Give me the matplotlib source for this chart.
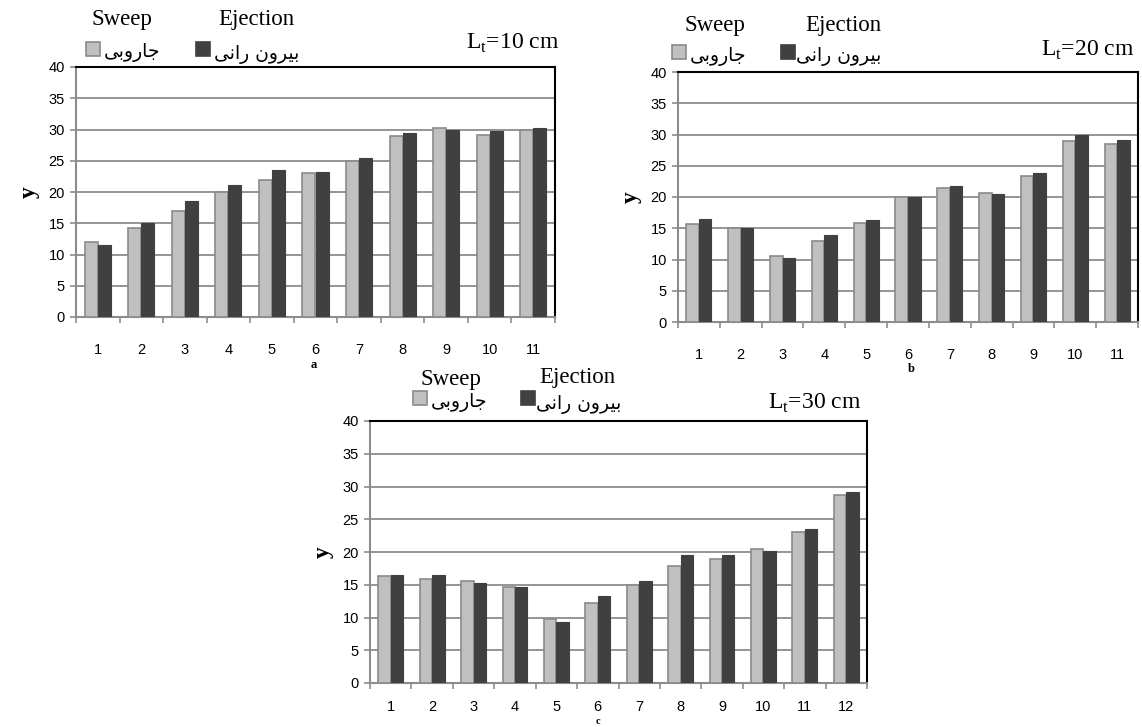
import numpy as np
import matplotlib
matplotlib.use('Agg')
import matplotlib.pyplot as plt
from matplotlib.patches import Rectangle

W, H = 1142, 727

#---------------------------------------------------------------------
# data
#---------------------------------------------------------------------
cats_a = [str(i) for i in range(1, 12)]
sweep_a = [12.0, 14.2, 17.0, 20.0, 22.0, 23.0, 25.0, 28.9, 30.3, 29.2, 29.9]
eject_a = [11.6, 15.0, 18.5, 21.2, 23.5, 23.2, 25.4, 29.5, 30.0, 29.7, 30.2]

cats_b = [str(i) for i in range(1, 12)]
sweep_b = [15.7, 15.0, 10.5, 13.0, 15.9, 20.0, 21.4, 20.7, 23.4, 29.0, 28.5]
eject_b = [16.5, 15.1, 10.2, 13.9, 16.4, 20.0, 21.8, 20.5, 23.9, 30.0, 29.2]

cats_c = [str(i) for i in range(1, 13)]
sweep_c = [16.4, 15.9, 15.5, 14.6, 9.8, 12.2, 15.0, 17.9, 19.0, 20.5, 23.0, 28.7]
eject_c = [16.5, 16.5, 15.3, 14.6, 9.3, 13.3, 15.55, 19.5, 19.5, 20.2, 23.5, 29.1]

yticks = [0, 5, 10, 15, 20, 25, 30, 35, 40]
lab_sweep_en = 'Sweep'
lab_eject_en = 'Ejection'
lab_sweep_fa = 'جاروبی'
lab_eject_fa = 'بیرون رانی'

light = '#c0c0c0'
light_edge = '#8a8a8a'
dark = '#404040'
gridc = '#8c8c8c'


#------- simple persian shaping (mpl 3.10 has no text shaping) -------
FORMS = {
    'ج': ('\uFE9D', '\uFE9E', '\uFE9F', '\uFEA0', True),
    'ا': ('\uFE8D', '\uFE8E', None, None, False),
    'ر': ('\uFEAD', '\uFEAE', None, None, False),
    'و': ('\uFEED', '\uFEEE', None, None, False),
    'ب': ('\uFE8F', '\uFE90', '\uFE91', '\uFE92', True),
    'ی': ('\uFEEF', '\uFEF0', '\uFEF3', '\uFEF4', True),
    'ن': ('\uFEE5', '\uFEE6', '\uFEE7', '\uFEE8', True),
}

def shape(txt):
    out = []
    for i, c in enumerate(txt):
        if c not in FORMS:
            out.append(c)
            continue
        iso, fin, ini, med, dual = FORMS[c]
        prev = txt[i-1] if i > 0 else None
        nxt = txt[i+1] if i+1 < len(txt) else None
        jp = prev in FORMS and FORMS[prev][4]
        jn = dual and nxt in FORMS
        if jp and jn:
            out.append(med)
        elif jp:
            out.append(fin)
        elif jn:
            out.append(ini)
        else:
            out.append(iso)
    return ''.join(reversed(out))


def fx(x):
    return x / W

def fy(y):
    return 1 - y / H


def plot_panel(fig, box, cats, sw, ej, lt, leg, letter, xpad=19):
    # box: left, top, right, bottom in pixels
    l, t, r, b = box
    ax = fig.add_axes([fx(l), fy(b), (r-l)/W, (b-t)/H])
    x = np.arange(len(cats))
    bw = 0.3
    ax.bar(x - bw/2, sw, width=bw, color=light, edgecolor=light_edge, linewidth=1.2, zorder=3)
    ax.bar(x + bw/2, ej, width=bw, color=dark, edgecolor=dark, linewidth=0.8, zorder=3)
    ax.set_xlim(-0.5, len(cats) - 0.5)
    ax.set_ylim(0, 40)
    ax.set_yticks(yticks)
    ax.yaxis.grid(True, color=gridc, linewidth=1.3, zorder=0)
    ax.set_axisbelow(True)
    ax.set_xticks(x)
    ax.set_xticklabels(cats)
    ax.set_xticks(np.arange(len(cats) + 1) - 0.5, minor=True)
    ax.tick_params(axis='x', which='major', length=0, pad=xpad, labelsize=10.5)
    ax.tick_params(axis='x', which='minor', length=4, color=gridc, width=1.2, direction='out')
    ax.tick_params(axis='y', length=4, color=gridc, width=1.2, direction='out', labelsize=10.5, pad=4)
    for s in ['left', 'bottom']:
        ax.spines[s].set_color(gridc)
        ax.spines[s].set_linewidth(1.5)
    for s in ['top', 'right']:
        ax.spines[s].set_color('black')
        ax.spines[s].set_linewidth(1.5)
    ax.set_ylabel('y', fontfamily='Liberation Serif', fontweight='bold', fontsize=17, labelpad=6)

    # legend drawn by hand, like the excel original
    fig.text(fx(l + leg['sw'][0]), fy(t - leg['sw'][1]), lab_sweep_en, ha='center', va='center',
             fontfamily='Liberation Serif', fontsize=16.5)
    fig.text(fx(l + leg['ej'][0]), fy(t - leg['ej'][1]), lab_eject_en, ha='center', va='center',
             fontfamily='Liberation Serif', fontsize=16.5)
    for key, fc, ec in [('sq1', light, light_edge), ('sq2', dark, dark)]:
        cx, cy = l + leg[key][0], t - leg[key][1]
        fig.add_artist(Rectangle((fx(cx - 7), fy(cy + 7)), 14/W, 14/H, transform=fig.transFigure,
                                 facecolor=fc, edgecolor=ec, linewidth=1.2))
    fig.text(fx(l + leg['fa1'][0]), fy(t - leg['fa1'][1]), shape(lab_sweep_fa), ha='center', va='center',
             fontfamily='DejaVu Sans', fontsize=13.5)
    fig.text(fx(l + leg['fa2'][0]), fy(t - leg['fa2'][1]), shape(lab_eject_fa), ha='center', va='center',
             fontfamily='DejaVu Sans', fontsize=13.5)
    fig.text(fx(l + leg['lt'][0]), fy(t - leg['lt'][1]), lt, ha='right', va='center',
             fontfamily='Liberation Serif', fontsize=17)
    fig.text(fx(letter[0]), fy(letter[1]), letter[2], ha='center', va='center',
             fontfamily='Liberation Serif', fontweight='bold', fontsize=letter[3])
    return ax


plt.rcParams['mathtext.fontset'] = 'custom'
plt.rcParams['mathtext.rm'] = 'Liberation Serif'
plt.rcParams['font.family'] = ['Liberation Sans', 'DejaVu Sans']

fig = plt.figure(figsize=(W/100, H/100), dpi=100)

leg_a = dict(sw=(46, 47), ej=(180, 47), sq1=(17, 18), fa1=(56, 15), sq2=(127, 18), fa2=(181, 12), lt=(483, 24))
leg_b = dict(sw=(37, 47), ej=(165, 47), sq1=(1, 20), fa1=(40, 15), sq2=(110, 20), fa2=(161, 15), lt=(456, 22))
leg_c = dict(sw=(81, 41), ej=(207, 43), sq1=(50, 23), fa1=(89, 18), sq2=(158, 23), fa2=(209, 16), lt=(491, 18))

plot_panel(fig, (76, 67, 555, 317), cats_a, sweep_a, eject_a, 'L$_\\mathregular{t}$=10 cm', leg_a,
           (314, 365, 'a', 9))
plot_panel(fig, (678, 72, 1138, 322), cats_b, sweep_b, eject_b, 'L$_\\mathregular{t}$=20 cm', leg_b,
           (911, 369, 'b', 9))
plot_panel(fig, (370, 421, 867, 683), cats_c, sweep_c, eject_c, 'L$_\\mathregular{t}$=30 cm', leg_c,
           (598, 721, 'c', 7.5), xpad=12)

fig.savefig('out.png', dpi=100)
